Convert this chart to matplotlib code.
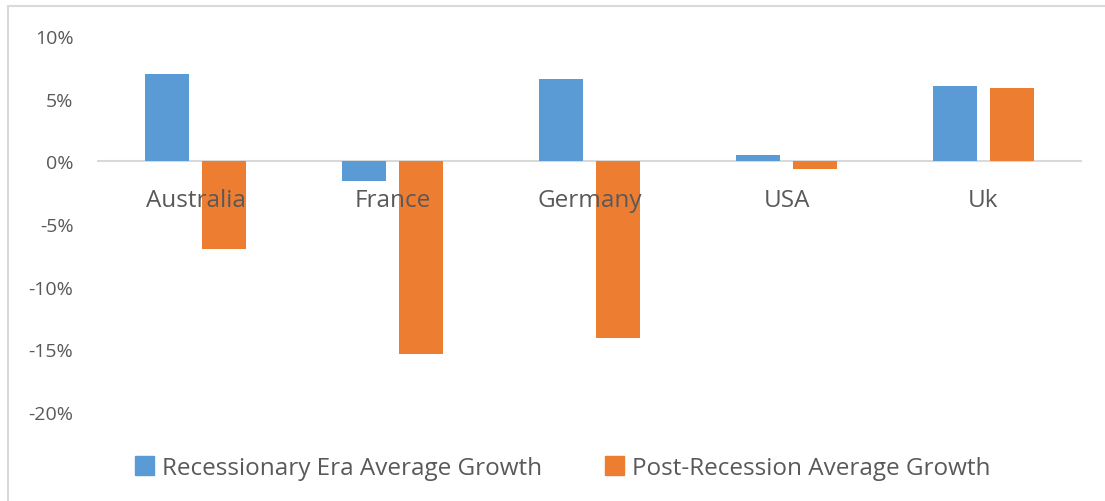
import matplotlib
matplotlib.use("Agg")
import matplotlib.pyplot as plt
import matplotlib.patches as mpatches
import numpy as np

# valores (en %)
countries = ["Australia", "France", "Germany", "USA", "Uk"]
recession_growth = [7.0, -1.6, 6.55, 0.5, 6.05]
post_recession_growth = [-7.0, -15.4, -14.1, -0.65, 5.85]
series_names = ["Recessionary Era Average Growth", "Post-Recession Average Growth"]
yticks = [10, 5, 0, -5, -10, -15, -20]

blue = "#5B9BD5"
orange = "#ED7D31"
gray_txt = "#595959"
gray_line = "#D9D9D9"

plt.rcParams['font.family'] = ['Open Sans', 'DejaVu Sans']

fig = plt.figure(figsize=(11.05, 5.02), dpi=100)
ax = fig.add_axes([97/1105, 1 - 413/502, 985/1105, 376/502])

x = np.arange(len(countries))
w = 0.223
off = 0.145
ax.bar(x - off, recession_growth, w, color=blue, zorder=2)
ax.bar(x + off, post_recession_growth, w, color=orange, zorder=2)
ax.axhline(0, color=gray_line, lw=1.5, zorder=1)

ax.set_xlim(-0.5, len(countries) - 0.5)
ax.set_ylim(-20, 10)
ax.set_yticks(yticks)
ax.set_yticklabels(["{}%".format(t) for t in yticks], fontsize=14, color=gray_txt)
ax.tick_params(axis='y', length=0, pad=17)
ax.set_xticks([])
for s in ax.spines.values():
    s.set_visible(False)

# etiquetas de categoria junto al eje cero, encima de las barras
for i, name in enumerate(countries):
    ax.annotate(name, (x[i], 0), xytext=(0, -32), textcoords='offset points',
                ha='center', va='baseline', fontsize=17.5, color=gray_txt, zorder=5)

# borde del area del grafico
fig.add_artist(mpatches.Rectangle((8/1105, -0.2), 1.5, 1.2 - 7/502, transform=fig.transFigure,
                                  fill=False, edgecolor=gray_line, lw=1.5))

handles = [mpatches.Patch(color=blue), mpatches.Patch(color=orange)]
leg = fig.legend(handles, series_names, loc='center', bbox_to_anchor=(0.509, 1 - 469/502),
                 ncol=2, frameon=False, fontsize=17.5, handlelength=0.8, handleheight=0.8,
                 handletextpad=0.3, columnspacing=2.6, borderpad=0)
for t in leg.get_texts():
    t.set_color(gray_txt)

fig.savefig("out.png", dpi=100)
